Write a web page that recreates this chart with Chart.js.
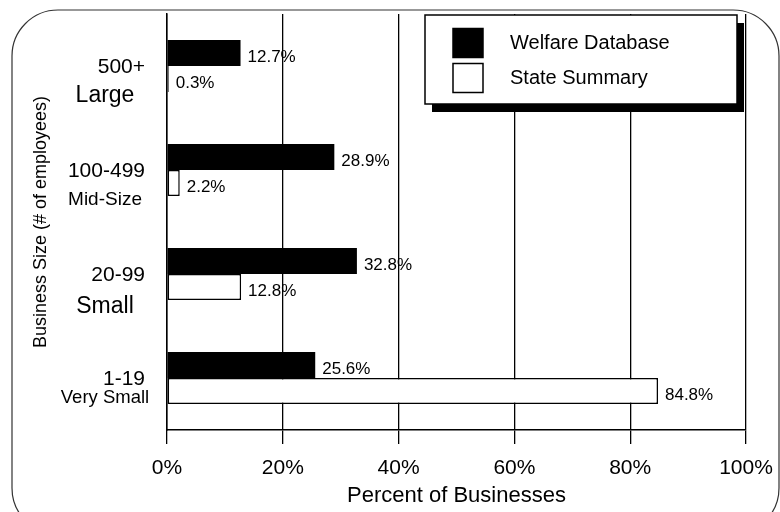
<!DOCTYPE html>
<html>
<head>
<meta charset="utf-8">
<script src="https://cdn.jsdelivr.net/npm/chart.js@4/dist/chart.umd.min.js"></script>
<style>
  html, body { margin: 0; padding: 0; background: #fff; }
  canvas { display: block; }
</style>
</head>
<body>
<canvas id="c" width="780" height="512"></canvas>
<script>
// ---- data ----
const categories = ["500+", "100-499", "20-99", "1-19"];
const subLabels = ["Large", "Mid-Size", "Small", "Very Small"];
const welfareDatabase = [12.7, 28.9, 32.8, 25.6];
const stateSummary = [0.3, 2.2, 12.8, 84.8];
const seriesNames = ["Welfare Database", "State Summary"];
const xTicks = [0, 20, 40, 60, 80, 100];

// ---- styles ----
const FONT = "'Liberation Sans', Arial, Helvetica, sans-serif";
const subLabelStyle = [
  { size: 23, dy: 30 },
  { size: 19, dy: 30 },
  { size: 23, dy: 33 },
  { size: 18.5, dy: 20 }
];

const framePlugin = {
  id: 'frame',
  beforeDraw(chart) {
    const ctx = chart.ctx;
    ctx.save();
    ctx.fillStyle = '#fff';
    ctx.fillRect(0, 0, chart.width, chart.height);
    const x0 = 12, y0 = 10, x1 = 779, y1 = 534, r = 46;
    ctx.beginPath();
    ctx.moveTo(x0 + r, y0);
    ctx.lineTo(x1 - r, y0);
    ctx.arcTo(x1, y0, x1, y0 + r, r);
    ctx.lineTo(x1, y1 - r);
    ctx.arcTo(x1, y1, x1 - r, y1, r);
    ctx.lineTo(x0 + r, y1);
    ctx.arcTo(x0, y1, x0, y1 - r, r);
    ctx.lineTo(x0, y0 + r);
    ctx.arcTo(x0, y0, x0 + r, y0, r);
    ctx.closePath();
    ctx.strokeStyle = '#333';
    ctx.lineWidth = 1.2;
    ctx.stroke();
    ctx.restore();
  }
};

const labelsPlugin = {
  id: 'customLabels',
  afterDatasetsDraw(chart) {
    const ctx = chart.ctx;
    const yScale = chart.scales.y;
    ctx.save();
    ctx.fillStyle = '#000';
    // category labels (two lines)
    categories.forEach((cat, i) => {
      const cy = yScale.getPixelForValue(i);
      ctx.font = `21px ${FONT}`;
      ctx.textAlign = 'right';
      ctx.textBaseline = 'middle';
      ctx.fillText(cat, 145, cy + 1);
      const st = subLabelStyle[i];
      ctx.font = `${st.size}px ${FONT}`;
      ctx.textAlign = 'center';
      ctx.fillText(subLabels[i], 105, cy + st.dy);
    });
    // value labels
    ctx.font = `17px ${FONT}`;
    ctx.textAlign = 'left';
    ctx.textBaseline = 'middle';
    chart.data.datasets.forEach((ds, di) => {
      const meta = chart.getDatasetMeta(di);
      meta.data.forEach((bar, i) => {
        ctx.fillText(ds.data[i].toFixed(1) + '%', bar.x + 7, bar.y + 4);
      });
    });
    ctx.restore();
  },
  afterDraw(chart) {
    const ctx = chart.ctx;
    ctx.save();
    const bx = 425, by = 15, bw = 312, bh = 89;
    // shadow
    ctx.fillStyle = '#000';
    ctx.fillRect(bx + 7, by + 8, bw, bh);
    // box
    ctx.fillStyle = '#fff';
    ctx.fillRect(bx, by, bw, bh);
    ctx.strokeStyle = '#000';
    ctx.lineWidth = 1.5;
    ctx.strokeRect(bx, by, bw, bh);
    // entries
    const ds = chart.data.datasets;
    const rows = [43, 78];
    ds.forEach((d, i) => {
      const cy = rows[i];
      ctx.fillStyle = d.backgroundColor;
      ctx.fillRect(453, cy - 14.5, 30, 29);
      ctx.strokeStyle = '#000';
      ctx.lineWidth = 1.5;
      ctx.strokeRect(453, cy - 14.5, 30, 29);
      ctx.fillStyle = '#000';
      ctx.font = `20px ${FONT}`;
      ctx.textAlign = 'left';
      ctx.textBaseline = 'middle';
      ctx.fillText(d.label, 510, cy);
    });
    ctx.restore();
  }
};

new Chart(document.getElementById('c'), {
  type: 'bar',
  data: {
    labels: categories,
    datasets: [
      {
        label: seriesNames[0],
        data: welfareDatabase,
        backgroundColor: '#000',
        borderColor: '#000',
        borderWidth: 0
      },
      {
        label: seriesNames[1],
        data: stateSummary,
        backgroundColor: '#fff',
        borderColor: '#000',
        borderWidth: 1.5,
        borderSkipped: false
      }
    ]
  },
  options: {
    indexAxis: 'y',
    responsive: false,
    animation: false,
    devicePixelRatio: 1,
    categoryPercentage: 0.5,
    barPercentage: 1.0,
    layout: { padding: { top: 14, right: 34, left: 0, bottom: 0 } },
    plugins: {
      legend: { display: false },
      tooltip: { enabled: false }
    },
    scales: {
      x: {
        type: 'linear',
        min: 0,
        max: 100,
        afterBuildTicks(scale) { scale.ticks = xTicks.map(v => ({ value: v })); },
        afterFit(scale) {
          scale.height = 82;
          scale.paddingRight = 0;
          scale.paddingLeft = 0;
        },
        grid: {
          color: '#000',
          lineWidth: 1.3,
          tickLength: 14,
          drawTicks: true
        },
        border: { display: true, color: '#000', width: 1.5 },
        ticks: {
          color: '#000',
          padding: 12,
          font: { family: FONT, size: 21 },
          callback: v => v + '%'
        },
        title: {
          display: true,
          text: 'Percent of Businesses',
          color: '#000',
          font: { family: FONT, size: 22 },
          padding: { top: 0, bottom: 3 }
        }
      },
      y: {
        afterFit(scale) { scale.width = 167; },
        grid: { display: false },
        border: { display: true, color: '#000', width: 1.5 },
        ticks: { display: false },
        title: {
          display: true,
          text: 'Business Size (# of employees)',
          color: '#000',
          font: { family: FONT, size: 18 },
          padding: { top: 30, bottom: 0 }
        }
      }
    }
  },
  plugins: [framePlugin, labelsPlugin]
});
</script>
</body>
</html>
